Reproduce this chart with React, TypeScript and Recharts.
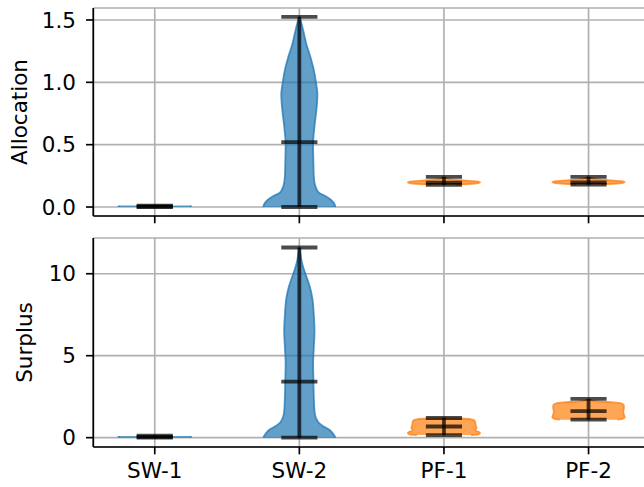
import { Area, CartesianGrid, ComposedChart, Label, ReferenceLine, XAxis, YAxis } from "recharts";

const categories = ["SW-1", "SW-2", "PF-1", "PF-2"];
const positions = [1, 2, 3, 4];
const violinColors = ["#1f77b4", "#1f77b4", "#ff7f0e", "#ff7f0e"];

// violin outlines as [value, relative half width] pairs
const sw1Allocation = [[0, 1], [0.012, 1]];
const sw2Allocation = [
  [0, 1.0], [0.03, 0.96], [0.058, 0.87], [0.085, 0.74], [0.112, 0.55], [0.14, 0.48],
  [0.18, 0.43], [0.25, 0.4], [0.35, 0.39], [0.5, 0.38], [0.65, 0.42], [0.8, 0.48],
  [0.9, 0.5], [1.0, 0.46], [1.1, 0.4], [1.2, 0.31], [1.3, 0.2], [1.4, 0.12],
  [1.47, 0.06], [1.525, 0]
];
const pf1Allocation = [
  [0.178, 0.35], [0.185, 0.75], [0.192, 0.95], [0.198, 1.0], [0.205, 0.9],
  [0.212, 0.6], [0.22, 0.25], [0.23, 0.08], [0.242, 0.02]
];
const pf2Allocation = [
  [0.18, 0.35], [0.187, 0.75], [0.194, 0.95], [0.2, 1.0], [0.207, 0.9],
  [0.214, 0.6], [0.222, 0.25], [0.232, 0.08], [0.242, 0.02]
];

const sw1Surplus = [[0, 1], [0.1, 1]];
const sw2Surplus = [
  [0, 1.0], [0.25, 0.93], [0.5, 0.82], [0.7, 0.66], [0.9, 0.54], [1.2, 0.46],
  [1.6, 0.42], [2.5, 0.4], [3.5, 0.39], [4.5, 0.38], [5.5, 0.4], [6.5, 0.42],
  [7.5, 0.4], [8.5, 0.36], [9.2, 0.29], [9.8, 0.2], [10.3, 0.12], [10.8, 0.06],
  [11.2, 0.03], [11.6, 0]
];
const pf1Surplus = [
  [0.16, 0.75], [0.2, 0.95], [0.27, 1.0], [0.35, 0.96], [0.42, 0.87], [0.5, 0.88],
  [0.6, 0.9], [0.75, 0.88], [0.9, 0.87], [1.05, 0.84], [1.12, 0.75], [1.17, 0.45], [1.2, 0]
];
const pf2Surplus = [
  [1.1, 0.8], [1.15, 0.95], [1.25, 1.0], [1.4, 0.98], [1.55, 0.96], [1.7, 0.97],
  [1.85, 0.98], [2.0, 0.97], [2.1, 0.9], [2.15, 0.7], [2.2, 0.3], [2.28, 0.08], [2.36, 0]
];

const allocationMin = [0, 0, 0.178, 0.18];
const allocationMedian = [0.004, 0.52, 0.196, 0.198];
const allocationMax = [0.012, 1.525, 0.242, 0.242];

const surplusMin = [0, 0, 0.16, 1.1];
const surplusMedian = [0.05, 3.42, 0.68, 1.62];
const surplusMax = [0.13, 11.6, 1.2, 2.36];

const allocationTicks = [0, 0.5, 1.0, 1.5];
const surplusTicks = [0, 5, 10];

const xDomain = [0.575, 4.425];
const halfWidth = 0.25;
const capHalf = 0.125;
const FONT = 21.5;
const LW = 1.67;

type PanelProps = {
  top: number;
  height: number;
  xAxisHeight: number;
  profiles: number[][][];
  mins: number[];
  medians: number[];
  maxes: number[];
  yDomain: number[];
  yTicks: number[];
  yFormat: (v: number) => string;
  title: string;
  titleX: number;
  showXLabels: boolean;
};

function Panel(p: PanelProps) {
  const stat = "#000";
  return (
    <div style={{ position: "absolute", left: 0, top: p.top }}>
      <ComposedChart
        width={660}
        height={p.height}
        layout="vertical"
        margin={{ top: 8, right: 10, left: 0, bottom: 0 }}
      >
        <CartesianGrid stroke="#b0b0b0" strokeWidth={LW} />
        <XAxis
          type="number"
          domain={xDomain}
          allowDataOverflow
          ticks={positions}
          interval={0}
          height={p.xAxisHeight}
          tickSize={7.3}
          tickMargin={8.2}
          tickLine={{ stroke: "#000", strokeWidth: LW }}
          axisLine={{ stroke: "#000", strokeWidth: LW }}
          tick={{ fontSize: FONT, fill: "#000" }}
          tickFormatter={(v: number) => (p.showXLabels ? categories[positions.indexOf(v)] : "")}
        />
        <XAxis
          xAxisId="top"
          orientation="top"
          type="number"
          domain={xDomain}
          allowDataOverflow
          height={0}
          tick={false}
          tickLine={false}
          axisLine={{ stroke: "#000", strokeWidth: LW }}
        />
        <YAxis
          type="number"
          dataKey="v"
          reversed
          domain={p.yDomain}
          allowDataOverflow
          ticks={p.yTicks}
          interval={0}
          width={93.3}
          tickSize={7.3}
          tickMargin={10}
          tickLine={{ stroke: "#000", strokeWidth: LW }}
          axisLine={{ stroke: "#000", strokeWidth: LW }}
          tick={{ fontSize: FONT, fill: "#000" }}
          tickFormatter={p.yFormat}
        >
          <Label
            content={(props: any) => {
              const vb = props.viewBox || { y: 8, height: 200 };
              const cy = vb.y + vb.height / 2;
              return (
                <text
                  x={p.titleX}
                  y={cy}
                  transform={`rotate(-90 ${p.titleX} ${cy})`}
                  textAnchor="middle"
                  fontSize={FONT}
                  fill="#000"
                >
                  {p.title}
                </text>
              );
            }}
          />
        </YAxis>
        {p.profiles.map((prof, i) => (
          <Area
            key={"v" + i}
            data={prof.map(([v, w]) => ({
              v,
              span: [positions[i] - halfWidth * w, positions[i] + halfWidth * w]
            }))}
            dataKey="span"
            type="monotone"
            fill={violinColors[i]}
            fillOpacity={0.7}
            stroke={violinColors[i]}
            strokeOpacity={0.75}
            strokeWidth={1.8}
            dot={false}
            activeDot={false}
            isAnimationActive={false}
          />
        ))}
        {positions.map((x, i) => (
          <ReferenceLine
            key={"stem" + i}
            segment={[{ x, y: p.mins[i] }, { x, y: p.maxes[i] }]}
            stroke={stat}
            strokeOpacity={0.7}
            strokeWidth={3.8}
          />
        ))}
        {[p.mins, p.medians, p.maxes].flatMap((vals, k) =>
          positions.map((x, i) => (
            <ReferenceLine
              key={"cap" + k + "-" + i}
              segment={[{ x: x - capHalf, y: vals[i] }, { x: x + capHalf, y: vals[i] }]}
              stroke={stat}
              strokeOpacity={0.7}
              strokeWidth={3.8}
            />
          ))
        )}
      </ComposedChart>
    </div>
  );
}

export default function App() {
  return (
    <div
      style={{
        position: "fixed",
        left: 0,
        top: 0,
        width: 644,
        height: 487,
        overflow: "hidden",
        background: "#fff",
        fontFamily: "'DejaVu Sans', sans-serif"
      }}
    >
      <Panel
        top={0}
        height={230}
        xAxisHeight={14}
        profiles={[sw1Allocation, sw2Allocation, pf1Allocation, pf2Allocation]}
        mins={allocationMin}
        medians={allocationMedian}
        maxes={allocationMax}
        yDomain={[-0.072, 1.596]}
        yTicks={allocationTicks}
        yFormat={(v) => v.toFixed(1)}
        title="Allocation"
        titleX={27}
        showXLabels={false}
      />
      <Panel
        top={230}
        height={257}
        xAxisHeight={40}
        profiles={[sw1Surplus, sw2Surplus, pf1Surplus, pf2Surplus]}
        mins={surplusMin}
        medians={surplusMedian}
        maxes={surplusMax}
        yDomain={[-0.57, 12.18]}
        yTicks={surplusTicks}
        yFormat={(v) => String(v)}
        title="Surplus"
        titleX={32}
        showXLabels={true}
      />
    </div>
  );
}
